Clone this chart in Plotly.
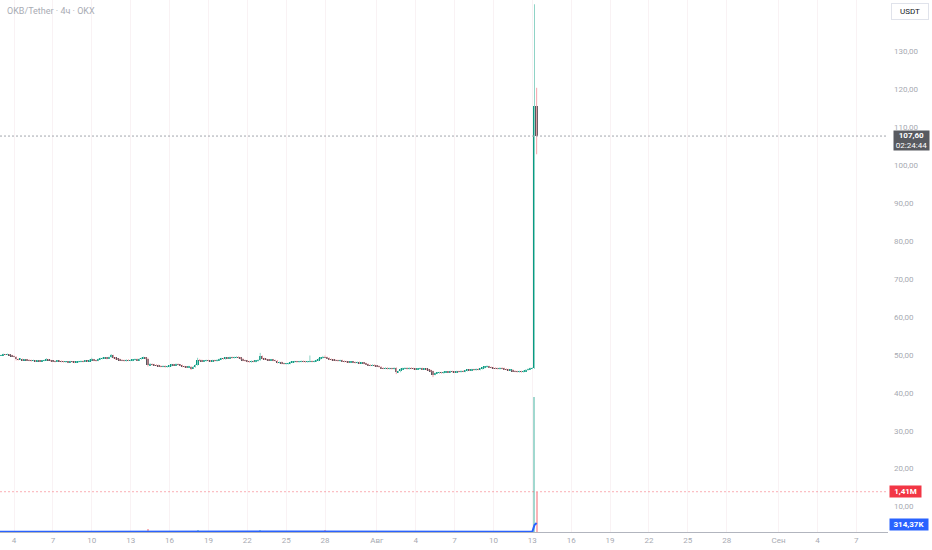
import plotly.graph_objects as go
import pandas as pd

# ---------------- data (4h candles, OKB/USDT, OKX) ----------------
START = "2025-07-02 20:00"
FIRST_OPEN = 49.7

CLOSES = [
    49.8,
    49.9, 50.1, 50.0, 50.1, 49.9, 49.6,
    49.5, 48.8, 48.7, 48.9, 48.6, 48.7,
    48.6, 48.5, 48.4, 48.5, 48.3, 48.4,
    48.3, 48.4, 48.5, 48.8, 48.6, 48.4,
    48.3, 48.2, 48.4, 48.3, 48.2, 48.1,
    48.1, 48.0, 48.2, 48.1, 48.0, 48.1,
    48.2, 48.3, 48.2, 48.4, 48.3, 48.6,
    48.7, 48.5, 48.4, 48.8, 49.0, 49.1,
    49.2, 49.0, 49.3, 49.9, 49.2, 48.9,
    48.8, 48.6, 48.5, 48.4, 48.6, 48.5,
    48.5, 48.7, 48.8, 48.6, 48.9, 49.1,
    49.2, 49.0, 47.3, 47.5, 47.4, 47.3,
    47.2, 47.0, 46.9, 47.0, 46.8, 46.9,
    47.1, 47.4, 47.3, 47.5, 47.4, 47.2,
    46.9, 46.8, 46.7, 46.9, 46.5, 46.8,
    47.3, 48.6, 48.5, 48.3, 48.4, 48.5,
    48.4, 48.3, 48.5, 48.4, 48.6, 48.8,
    49.0, 48.9, 49.2, 49.1, 49.3, 49.2,
    49.3, 49.4, 49.2, 48.9, 48.5, 48.4,
    48.2, 48.1, 48.3, 48.2, 48.4, 48.6,
    49.6, 49.0, 48.8, 48.7, 48.6, 48.7,
    48.5, 48.4, 47.9, 48.0, 47.7, 47.6,
    47.6, 47.7, 48.0, 48.1, 48.2, 48.1,
    48.2, 48.3, 48.2, 48.1, 48.2, 48.3,
    48.2, 48.3, 48.5, 48.9, 49.2, 49.4,
    49.3, 49.1, 48.8, 48.7, 48.6, 48.5,
    48.4, 48.5, 48.3, 48.2, 48.1, 48.0,
    48.1, 48.0, 47.9, 48.0, 47.8, 47.9,
    47.7, 47.5, 47.3, 47.2, 47.3, 47.1,
    47.0, 46.8, 46.5, 46.4, 46.5, 46.3,
    46.4, 46.3, 46.5, 45.4, 45.6, 46.2,
    46.4, 46.5, 46.3, 46.5, 46.4, 46.3,
    46.2, 46.3, 46.4, 46.2, 46.3, 46.1,
    45.9, 45.6, 44.8, 45.1, 45.2, 45.3,
    45.2, 45.4, 45.5, 45.4, 45.6, 45.5,
    45.4, 45.6, 45.5, 45.7, 45.6, 45.8,
    46.0, 45.9, 46.1, 46.0, 46.2, 46.1,
    46.3, 46.6, 46.8, 46.9, 46.7, 46.6,
    46.5, 46.4, 46.3, 46.5, 46.4, 46.2,
    46.1, 45.9, 46.0, 45.7, 45.6, 45.5,
    45.6, 45.5, 45.7, 46.0, 46.2, 46.4,
    46.5, 115.4, 107.6,
]

HIGHS = [
    49.9,
    50.0, 50.3, 50.2, 50.3, 50.2, 50.0,
    49.8, 49.6, 49.0, 49.1, 49.0, 48.9,
    48.9, 48.8, 48.7, 48.7, 48.6, 48.6,
    48.6, 48.6, 48.7, 49.1, 48.9, 48.7,
    48.5, 48.5, 48.6, 48.6, 48.5, 48.4,
    48.3, 48.3, 48.4, 48.3, 48.3, 48.3,
    48.4, 48.5, 48.5, 48.6, 48.5, 48.8,
    49.2, 48.9, 48.7, 49.0, 49.2, 49.3,
    49.4, 49.4, 49.5, 50.2, 50.0, 49.4,
    49.1, 49.0, 48.8, 48.7, 48.8, 48.8,
    48.7, 48.9, 49.0, 49.0, 49.1, 49.3,
    49.5, 49.4, 49.2, 47.8, 47.7, 47.6,
    47.5, 47.4, 47.2, 47.2, 47.2, 47.1,
    47.3, 47.6, 47.6, 47.7, 47.7, 47.5,
    47.4, 47.1, 47.0, 47.1, 47.0, 47.0,
    47.5, 49.2, 48.9, 48.7, 48.6, 48.7,
    48.7, 48.6, 48.7, 48.7, 48.8, 49.0,
    49.2, 49.2, 49.4, 49.4, 49.5, 49.5,
    49.5, 49.6, 49.6, 49.4, 49.1, 48.7,
    48.6, 48.4, 48.5, 48.5, 48.6, 48.8,
    50.5, 49.8, 49.2, 49.0, 48.9, 48.9,
    48.9, 48.7, 48.6, 48.2, 48.2, 47.9,
    47.8, 47.9, 48.2, 48.3, 48.4, 48.4,
    48.4, 48.5, 48.5, 48.4, 48.4, 49.8,
    48.5, 48.5, 48.7, 49.1, 49.4, 49.7,
    49.8, 49.5, 49.3, 49.0, 48.9, 48.8,
    48.7, 48.7, 48.7, 48.5, 48.4, 48.3,
    48.3, 48.3, 48.2, 48.2, 48.2, 48.1,
    48.1, 47.9, 47.7, 47.5, 47.5, 47.5,
    47.3, 47.2, 47.0, 46.7, 46.7, 46.7,
    46.6, 46.6, 46.7, 46.7, 45.8, 46.4,
    46.6, 46.7, 46.7, 46.7, 46.7, 46.6,
    46.5, 46.5, 46.6, 46.6, 46.5, 46.5,
    46.3, 46.1, 45.8, 45.3, 45.4, 45.5,
    45.5, 45.6, 45.7, 45.7, 45.8, 45.8,
    45.7, 45.8, 45.8, 45.9, 45.9, 46.0,
    46.2, 46.2, 46.3, 46.3, 46.4, 46.4,
    46.5, 46.8, 47.0, 47.2, 47.1, 46.9,
    46.8, 46.7, 46.6, 46.7, 46.7, 46.6,
    46.4, 46.3, 46.2, 46.2, 45.9, 45.8,
    45.8, 45.8, 45.9, 46.2, 46.4, 46.6,
    46.7, 142.3, 120.3,
]

LOWS = [
    49.6,
    49.7, 49.8, 49.9, 49.9, 49.8, 49.5,
    49.3, 48.5, 48.5, 48.6, 48.4, 48.5,
    48.4, 48.3, 48.2, 48.3, 48.1, 48.2,
    48.1, 48.2, 48.3, 48.4, 48.5, 48.2,
    48.1, 48.0, 48.1, 48.2, 48.0, 47.9,
    47.9, 47.8, 47.9, 47.9, 47.8, 47.9,
    47.9, 48.0, 48.0, 48.1, 48.1, 48.2,
    48.4, 48.3, 48.2, 48.3, 48.6, 48.8,
    48.9, 48.8, 48.9, 49.2, 49.0, 48.7,
    48.6, 48.4, 48.3, 48.2, 48.2, 48.3,
    48.3, 48.3, 48.5, 48.4, 48.4, 48.7,
    48.9, 48.8, 46.9, 47.1, 47.2, 47.1,
    47.0, 46.8, 46.7, 46.7, 46.6, 46.6,
    46.7, 46.9, 47.1, 47.1, 47.2, 47.0,
    46.7, 46.6, 46.5, 46.5, 46.0, 46.3,
    46.6, 47.1, 48.3, 48.1, 48.1, 48.2,
    48.2, 48.1, 48.1, 48.2, 48.2, 48.4,
    48.6, 48.7, 48.7, 48.9, 48.9, 49.0,
    49.0, 49.1, 49.0, 48.7, 48.3, 48.2,
    48.0, 47.9, 47.9, 48.0, 48.0, 48.2,
    48.4, 48.8, 48.6, 48.5, 48.4, 48.4,
    48.3, 48.2, 47.7, 47.7, 47.5, 47.4,
    47.4, 47.4, 47.5, 47.8, 47.9, 47.9,
    47.9, 48.0, 48.0, 47.9, 47.9, 48.0,
    48.0, 48.0, 48.1, 48.3, 48.7, 49.0,
    49.1, 48.9, 48.6, 48.5, 48.4, 48.3,
    48.2, 48.2, 48.1, 48.0, 47.9, 47.8,
    47.8, 47.8, 47.7, 47.7, 47.6, 47.6,
    47.5, 47.3, 47.1, 47.0, 47.0, 46.9,
    46.8, 46.6, 46.3, 46.2, 46.2, 46.1,
    46.1, 46.1, 46.1, 44.9, 45.2, 45.4,
    46.0, 46.2, 46.1, 46.1, 46.2, 46.1,
    46.0, 46.0, 46.1, 46.0, 46.0, 45.9,
    45.7, 45.4, 44.1, 44.6, 44.9, 45.0,
    45.0, 45.0, 45.2, 45.2, 45.2, 45.3,
    45.2, 45.2, 45.3, 45.3, 45.4, 45.4,
    45.6, 45.7, 45.7, 45.8, 45.8, 45.9,
    45.9, 46.1, 46.4, 46.6, 46.5, 46.4,
    46.3, 46.2, 46.1, 46.1, 46.2, 46.0,
    45.9, 45.7, 45.7, 45.5, 45.4, 45.3,
    45.3, 45.3, 45.3, 45.5, 45.8, 46.0,
    46.2, 46.3, 102.8,
]

VOLUMES_K = [
    9,
    8, 11, 7, 9, 10, 12,
    9, 22, 13, 8, 10, 7,
    6, 7, 8, 6, 9, 7,
    8, 6, 7, 12, 9, 8,
    10, 9, 8, 7, 11, 9,
    8, 9, 7, 8, 10, 6,
    7, 8, 9, 10, 8, 14,
    16, 10, 9, 13, 15, 11,
    12, 10, 14, 28, 18, 11,
    9, 8, 7, 9, 8, 7,
    6, 8, 9, 8, 10, 12,
    14, 11, 105, 30, 16, 12,
    11, 10, 9, 8, 10, 9,
    9, 11, 8, 10, 9, 8,
    12, 10, 9, 11, 24, 15,
    20, 62, 25, 18, 14, 12,
    15, 22, 30, 18, 26, 34,
    28, 18, 30, 22, 35, 20,
    24, 30, 26, 20, 28, 18,
    16, 14, 12, 13, 15, 18,
    55, 26, 14, 11, 10, 9,
    10, 9, 18, 12, 14, 11,
    10, 9, 12, 10, 9, 8,
    7, 8, 6, 7, 9, 30,
    8, 7, 9, 14, 18, 20,
    58, 16, 14, 10, 9, 8,
    9, 8, 7, 9, 8, 10,
    8, 7, 9, 8, 10, 7,
    11, 10, 12, 9, 8, 10,
    12, 11, 14, 10, 9, 11,
    8, 9, 10, 38, 16, 12,
    9, 8, 7, 8, 9, 7,
    8, 9, 10, 8, 7, 9,
    12, 15, 46, 20, 13, 10,
    11, 9, 10, 8, 9, 10,
    9, 8, 10, 9, 8, 11,
    12, 10, 11, 9, 10, 8,
    11, 13, 12, 14, 10, 9,
    8, 7.2, 6.8, 9.1, 7.6, 8.3,
    6.9, 7.4, 8.8, 7.1, 6.5, 9.7,
    8.2, 7.9, 8.6, 9.3, 8.4, 10.2,
    9.4, 4730, 1410,
]

VOL_MA_LEN = 20
COUNTDOWN = "02:24:44"
TITLE = "OKB/Tether · 4ч · OKX"
CURRENCY = "USDT"

TICK_DATES = ["2025-07-04", "2025-07-07", "2025-07-10", "2025-07-13", "2025-07-16",
              "2025-07-19", "2025-07-22", "2025-07-25", "2025-07-28", "2025-08-01",
              "2025-08-04", "2025-08-07", "2025-08-10", "2025-08-13", "2025-08-16",
              "2025-08-19", "2025-08-22", "2025-08-25", "2025-08-28", "2025-09-01",
              "2025-09-04", "2025-09-07"]
TICK_TEXT = ["4", "7", "10", "13", "16", "19", "22", "25", "28", "Авг",
             "4", "7", "10", "13", "16", "19", "22", "25", "28", "Сен", "4", "7"]
PRICE_TICKS = [10, 20, 30, 40, 50, 60, 70, 80, 90, 100, 110, 120, 130]

X_RANGE = ["2025-07-02 22:02", "2025-09-09 10:46"]
Y_RANGE = [3.32, 143.43]
VOL_RANGE = [0, 18.62e6]

# ---------------- styling ----------------
W, H = 932, 550
ML, MR, MT, MB = 0, 44, 0, 18
PW, PH = W - ML - MR, H - MT - MB

UP_BODY = "#089981"
UP_WICK = "#8fd3c6"
DN_BODY = "#55575e"
DN_WICK = "#f5a3aa"
UP_VOL = "rgba(8,153,129,0.38)"
DN_VOL = "rgba(242,54,69,0.38)"
TXT = "#a7aab2"
FONT = "Roboto"

n = len(CLOSES)
times = pd.date_range(START, periods=n, freq="4h")
opens = [FIRST_OPEN] + CLOSES[:-1]
vols = [v * 1000 for v in VOLUMES_K]
is_up = [c >= o for o, c in zip(opens, CLOSES)]
vol_ma = pd.Series(vols).rolling(VOL_MA_LEN, min_periods=1).mean()

bar_ms = 4 * 3600 * 1000 * 0.92

fig = go.Figure()

# volume (overlay at bottom)
fig.add_trace(go.Bar(
    x=times, y=vols, yaxis="y2", width=bar_ms,
    marker=dict(color=[UP_VOL if u else DN_VOL for u in is_up], line=dict(width=0)),
    hoverinfo="skip", showlegend=False))
fig.add_trace(go.Scatter(
    x=times, y=vol_ma, yaxis="y2", mode="lines",
    line=dict(color="#2962ff", width=2), hoverinfo="skip", showlegend=False))

# wicks
for want_up, col in [(True, UP_WICK), (False, DN_WICK)]:
    wx, wy = [], []
    for t, h, l, u in zip(times, HIGHS, LOWS, is_up):
        if u == want_up:
            wx += [t, t, None]
            wy += [l, h, None]
    fig.add_trace(go.Scatter(x=wx, y=wy, mode="lines", line=dict(color=col, width=1),
                             hoverinfo="skip", showlegend=False))

# bodies
bases = [min(o, c) for o, c in zip(opens, CLOSES)]
heights = [max(abs(c - o), 0.07) for o, c in zip(opens, CLOSES)]
fig.add_trace(go.Bar(
    x=times, y=heights, base=bases, width=bar_ms,
    marker=dict(color=[UP_BODY if u else DN_BODY for u in is_up], line=dict(width=0)),
    hoverinfo="skip", showlegend=False))

last_close = CLOSES[-1]
last_vol = vols[-1]
last_ma = float(vol_ma.iloc[-1])


def comma(v, d=2):
    return f"{v:.{d}f}".replace(".", ",")


shapes = [
    dict(type="line", xref="paper", x0=0, x1=1, yref="y", y0=last_close, y1=last_close,
         line=dict(color="#a3a6ae", width=1, dash="2px,2px")),
    dict(type="line", xref="paper", x0=0, x1=1, yref="y2", y0=last_vol, y1=last_vol,
         line=dict(color="rgba(242,54,69,0.4)", width=1, dash="2px,2px")),
]


def px_x(px):
    return (px - ML) / PW


def px_y(py):
    return 1 - (py - MT) / PH


annotations = [
    dict(text=TITLE, xref="paper", yref="paper", x=px_x(5), y=px_y(11),
         xanchor="left", yanchor="middle", showarrow=False,
         font=dict(family=FONT, size=9, color="#a9acb4")),
    dict(text=CURRENCY, xref="paper", yref="paper", x=px_x(910), y=px_y(11.5),
         xanchor="center", yanchor="middle", showarrow=False, width=34, height=13,
         bordercolor="#e0e3eb", borderwidth=1, borderpad=1, bgcolor="#ffffff",
         font=dict(family=FONT, size=8, color="#131722")),
    dict(text=f"<b>{comma(last_close)}</b><br>{COUNTDOWN}", xref="paper", yref="y",
         x=px_x(893), y=last_close, yshift=-4.5, xanchor="left", yanchor="middle",
         showarrow=False, width=34, height=18, borderpad=0.5, bgcolor="#585a60",
         align="center", font=dict(family=FONT, size=8, color="#ffffff")),
    dict(text=f"<b>{comma(last_vol / 1e6)}M</b>", xref="paper", yref="y2",
         x=px_x(889), y=last_vol, xanchor="left", yanchor="middle", showarrow=False,
         width=30, height=10, borderpad=0.5, bgcolor="#f23645",
         font=dict(family=FONT, size=8, color="#ffffff")),
    dict(text=f"<b>{comma(last_ma / 1000)}K</b>", xref="paper", yref="y2",
         x=px_x(889), y=last_ma, yshift=-1, xanchor="left", yanchor="middle",
         showarrow=False, width=37, height=10, borderpad=0.5, bgcolor="#2962ff",
         font=dict(family=FONT, size=8, color="#ffffff")),
]

fig.update_layout(
    width=W, height=H, margin=dict(l=ML, r=MR, t=MT, b=MB),
    paper_bgcolor="#ffffff", plot_bgcolor="#ffffff",
    separators=", ", barmode="overlay", bargap=0, showlegend=False,
    font=dict(family=FONT, size=8, color=TXT),
    xaxis=dict(type="date", range=X_RANGE, tickvals=TICK_DATES, ticktext=TICK_TEXT,
               showgrid=True, gridcolor="#f9f2f4", gridwidth=1, zeroline=False,
               showline=True, linecolor="#b2b5be", linewidth=1, ticks="",
               tickfont=dict(family=FONT, size=8, color=TXT), fixedrange=True),
    yaxis=dict(side="right", range=Y_RANGE, tickvals=PRICE_TICKS,
               ticktext=[comma(v) for v in PRICE_TICKS], showgrid=False, zeroline=False,
               showline=False, ticks="", ticklabelstandoff=5,
               tickfont=dict(family=FONT, size=8, color=TXT), fixedrange=True),
    yaxis2=dict(overlaying="y", range=VOL_RANGE, visible=False, fixedrange=True),
    shapes=shapes, annotations=annotations,
)

fig.write_html(
    "out.html",
    config={"displayModeBar": False},
    post_script="document.body.style.margin='0';document.body.style.overflow='hidden';",
)
